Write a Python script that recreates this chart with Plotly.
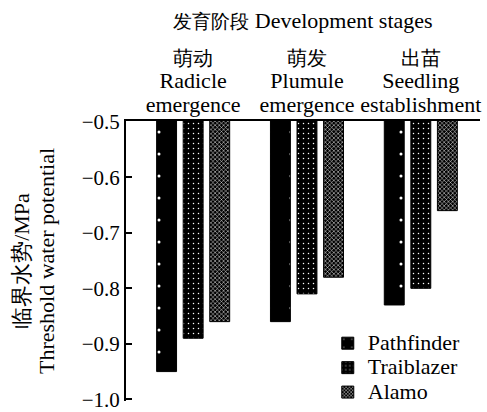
import plotly.graph_objects as go

stage_cn = ["萌动", "萌发", "出苗"]
stage_en1 = ["Radicle", "Plumule", "Seedling"]
stage_en2 = ["emergence", "emergence", "establishment"]
stage_pos = [0, 1, 2]
series_names = ["Pathfinder", "Traiblazer", "Alamo"]
pathfinder = [-0.95, -0.86, -0.83]
traiblazer = [-0.89, -0.81, -0.80]
alamo = [-0.86, -0.78, -0.66]
y_ticks = [-1.0, -0.9, -0.8, -0.7, -0.6, -0.5]

FONT = "Liberation Serif"


def sz(text, px):
    return f"<span style='font-size:{px}px'>{text}</span>"


stage_labels = [f"{sz(c, 20)}<br>{sz(a, 22)}<br>{sz(b, 22)}"
                for c, a, b in zip(stage_cn, stage_en1, stage_en2)]

patterns = [
    dict(shape=".", fgcolor="white", bgcolor="black", size=22, solidity=0.015, fillmode="replace"),
    dict(shape=".", fgcolor="white", bgcolor="black", size=5, solidity=0.07, fillmode="replace"),
    dict(shape="x", fgcolor="white", bgcolor="black", size=3, solidity=0.3, fillmode="replace"),
]

fig = go.Figure()
for name, vals, pat in zip(series_names, [pathfinder, traiblazer, alamo], patterns):
    fig.add_trace(go.Bar(
        x=stage_pos, y=vals, name=sz(name, 22),
        marker=dict(color="black", line=dict(width=1, color="black"), pattern=pat),
    ))

fig.update_layout(
    width=487, height=412,
    margin=dict(l=126, r=7, t=121, b=11, autoexpand=False),
    paper_bgcolor="white", plot_bgcolor="white",
    font=dict(family=FONT, size=20, color="black"),
    barmode="group", bargap=0.30, bargroupgap=0.25,
    showlegend=True,
    legend=dict(x=0.57, y=-0.032, xanchor="left", yanchor="bottom",
                bgcolor="rgba(0,0,0,0)", font=dict(family=FONT, size=16.5),
                tracegroupgap=0, itemwidth=30),
    xaxis=dict(
        side="top", range=[-0.59, 2.52], automargin=False,
        tickmode="array", tickvals=stage_pos, ticktext=stage_labels,
        tickfont=dict(size=18),
        showline=True, linecolor="black", linewidth=2,
        ticks="", showgrid=False, zeroline=False,
        title=dict(text=f"{sz('发育阶段', 19)} Development stages",
                   font=dict(size=22), standoff=12),
    ),
    yaxis=dict(
        range=[-1.003, -0.4985], tickmode="array", tickvals=y_ticks, automargin=False,
        tickformat=".1f", tickfont=dict(size=21),
        showline=True, linecolor="black", linewidth=2,
        ticks="inside", ticklen=6, tickwidth=2, tickcolor="black",
        showgrid=False, zeroline=False,
        title=dict(text=f"{sz('临界水势/MPa', 22)}<br>{sz('Threshold water potential', 22)}",
                   font=dict(size=19), standoff=22),
    ),
)

fig.write_html("out.html", config={"displayModeBar": False},
               post_script="document.body.style.margin='0';")
